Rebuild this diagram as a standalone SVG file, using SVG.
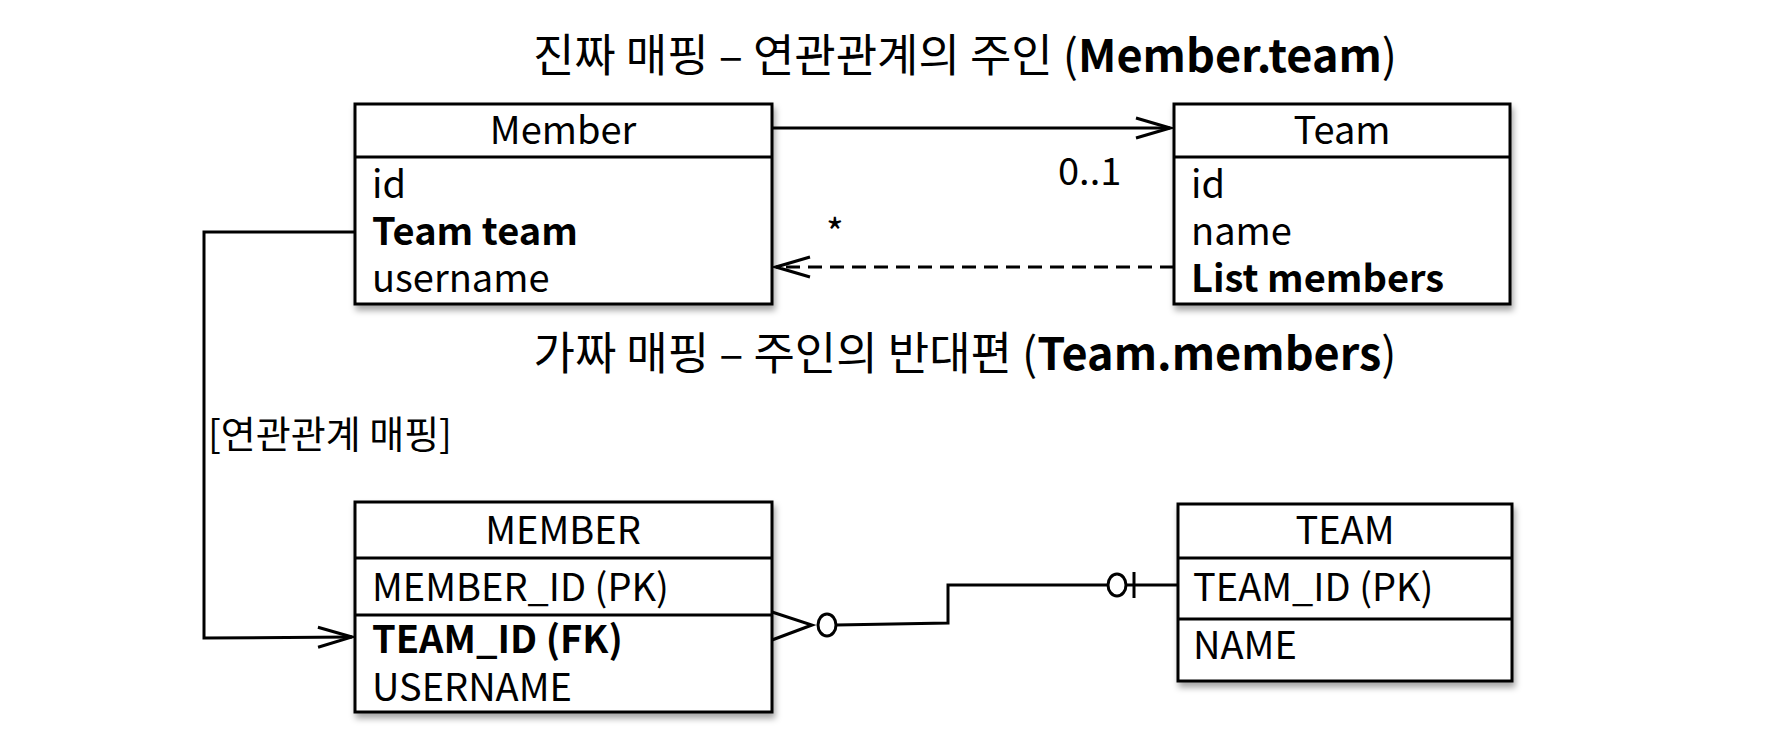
<svg xmlns="http://www.w3.org/2000/svg" width="1770" height="750" viewBox="0 0 1770 750">
<style>
text{font-family:"Noto Sans CJK KR","Liberation Sans",sans-serif;fill:#000}
.t{font-size:45px}
.r{font-size:38px}
.b{font-weight:bold}
.box{fill:#fff;stroke:#000;stroke-width:3}
.ln{fill:none;stroke:#000;stroke-width:3}
</style>
<defs>
<filter id="sh" x="-10%" y="-10%" width="130%" height="130%"><feDropShadow dx="2" dy="5" stdDeviation="3" flood-color="#000" flood-opacity="0.35"/></filter>
<marker id="oa" markerWidth="40" markerHeight="30" refX="36" refY="12" orient="auto" markerUnits="userSpaceOnUse"><path d="M2,2 L36,12 L2,22" fill="none" stroke="#000" stroke-width="3"/></marker>
</defs>
<text class="t" x="965" y="72" text-anchor="middle">진짜 매핑 – 연관관계의 주인 (<tspan class="b">Member.team</tspan>)</text>
<text class="t" x="965" y="370" text-anchor="middle">가짜 매핑 – 주인의 반대편 (<tspan class="b">Team.members</tspan>)</text>
<text class="r" x="208" y="448">[연관관계 매핑]</text>
<g id="Member">
<rect class="box" x="355" y="104" width="417" height="200" filter="url(#sh)"/>
<line class="ln" x1="355" y1="157" x2="772" y2="157"/>
<text class="r" x="563" y="144" text-anchor="middle">Member</text>
<text class="r" x="372" y="198">id</text>
<text class="r b" x="372" y="245">Team team</text>
<text class="r" x="372" y="292">username</text>
</g>
<g id="Team">
<rect class="box" x="1174" y="104" width="336" height="200" filter="url(#sh)"/>
<line class="ln" x1="1174" y1="157" x2="1510" y2="157"/>
<text class="r" x="1342" y="144" text-anchor="middle">Team</text>
<text class="r" x="1191" y="198">id</text>
<text class="r" x="1191" y="245">name</text>
<text class="r b" x="1191" y="292">List members</text>
</g>
<g id="MEMBER">
<rect class="box" x="355" y="502" width="417" height="210" filter="url(#sh)"/>
<line class="ln" x1="355" y1="558" x2="772" y2="558"/>
<line class="ln" x1="355" y1="615" x2="772" y2="615"/>
<text class="r" x="563" y="544" text-anchor="middle">MEMBER</text>
<text class="r" x="372" y="601">MEMBER_ID (PK)</text>
<text class="r b" x="372" y="653">TEAM_ID (FK)</text>
<text class="r" x="372" y="701">USERNAME</text>
</g>
<g id="TEAM">
<rect class="box" x="1178" y="504" width="334" height="177" filter="url(#sh)"/>
<line class="ln" x1="1178" y1="558" x2="1512" y2="558"/>
<line class="ln" x1="1178" y1="619" x2="1512" y2="619"/>
<text class="r" x="1345" y="544" text-anchor="middle">TEAM</text>
<text class="r" x="1193" y="601">TEAM_ID (PK)</text>
<text class="r" x="1193" y="659">NAME</text>
</g>
<g id="connectors">
<line class="ln" x1="772" y1="128" x2="1170" y2="128" marker-end="url(#oa)"/>
<text class="r" x="1058" y="185">0..1</text>
<line class="ln" x1="1174" y1="267" x2="776" y2="267" stroke-dasharray="14,8" marker-end="url(#oa)"/>
<text class="r" x="826" y="247">*</text>
<polyline class="ln" points="355,232 204,232 204,638 352,637" marker-end="url(#oa)"/>
<path class="ln" d="M772,612 L812,625 L772,640"/>
<ellipse class="ln" cx="827" cy="625" rx="9" ry="11"/>
<polyline class="ln" points="836,625 948,623 948,585 1108,585"/>
<ellipse class="ln" cx="1117" cy="585" rx="9" ry="11"/>
<line class="ln" x1="1134" y1="572" x2="1134" y2="598"/>
<line class="ln" x1="1126" y1="585" x2="1178" y2="585"/>
</g>
</svg>
